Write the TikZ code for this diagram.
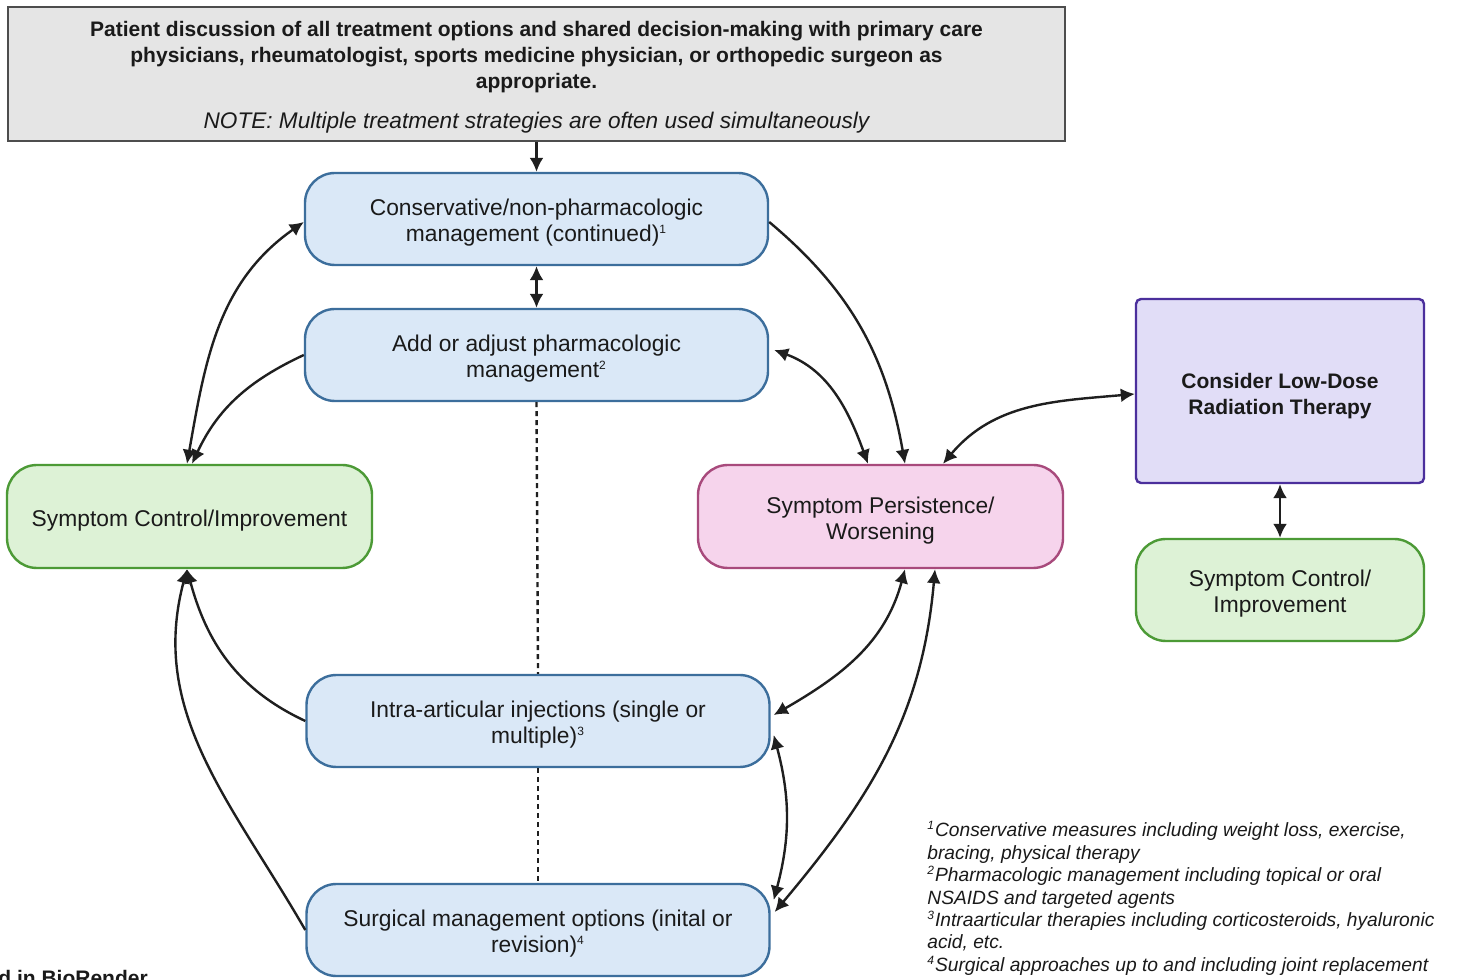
\documentclass[tikz,border=0pt]{standalone}
\usepackage{fontspec}
\setmainfont{Liberation Sans}
\usetikzlibrary{arrows.meta}
\definecolor{txt}{HTML}{1A1A1A}
\definecolor{topfill}{HTML}{E5E5E5}
\definecolor{topdraw}{HTML}{4D4D4D}
\definecolor{bfill}{HTML}{DAE8F7}
\definecolor{bdraw}{HTML}{3C6E9C}
\definecolor{gfill}{HTML}{DDF2D6}
\definecolor{gdraw}{HTML}{4C9A36}
\definecolor{pfill}{HTML}{F6D4EC}
\definecolor{pdraw}{HTML}{A84A7C}
\definecolor{vfill}{HTML}{E1DDF7}
\definecolor{vdraw}{HTML}{4B2F9C}
\definecolor{linec}{HTML}{1F1F1F}
\newcommand{\tf}{\rule{0pt}{12.3pt}}
\newcommand{\tftop}{\rule{0pt}{10.7pt}}
\tikzset{
  box/.style={draw, line width=1.2pt, inner sep=0pt, align=center, text=txt,
    font=\fontsize{11.4}{13}\selectfont},
  topbox/.style={box, fill=topfill, draw=topdraw, minimum width=528.5pt, minimum height=67pt},
  bluebox/.style={box, fill=bfill, draw=bdraw, rounded corners=15pt, minimum width=231.5pt, minimum height=46pt},
  greenbox/.style={box, fill=gfill, draw=gdraw, rounded corners=15pt},
  pinkbox/.style={box, fill=pfill, draw=pdraw, rounded corners=15pt, minimum width=182.5pt, minimum height=51.5pt},
  violetbox/.style={box, fill=vfill, draw=vdraw, rounded corners=2.5pt, minimum width=144pt, minimum height=92pt,
    font=\fontsize{10.5}{13}\selectfont\bfseries},
  conn/.style={line width=1.2pt, draw=linec, -{Latex[length=7pt,width=7pt]}},
  dconn/.style={line width=1.2pt, draw=linec, {Latex[length=7pt,width=7pt]}-{Latex[length=7pt,width=7pt]}},
  dotconn/.style={line width=1.2pt, draw=linec, dash pattern=on 2.5pt off 2pt},
  notes/.style={inner sep=0pt, align=left, anchor=north west, text=txt,
    font=\fontsize{9.6}{11.2}\selectfont\itshape},
}
\newcommand{\sups}[1]{\textsuperscript{\fontsize{6}{6}\selectfont #1}}
\begin{document}
\begin{tikzpicture}[x=0.5pt,y=0.5pt]
\useasboundingbox (0,0) rectangle (1459,979);
\fill[white] (0,0) rectangle (1459,979);

\node[topbox, font=\fontsize{10.5}{13}\selectfont\bfseries] (top) at (536.5,905) {\tftop Patient discussion of all treatment options and shared decision-making with primary care\\
physicians, rheumatologist, sports medicine physician, or orthopedic surgeon as\\
appropriate.\\[7pt]
\mdseries\itshape\fontsize{11.3}{13}\selectfont NOTE: Multiple treatment strategies are often used simultaneously};

\node[bluebox] (cons) at (536.5,760) {\tf Conservative/non-pharmacologic\\management (continued)\sups{1}};
\node[bluebox] (pharm) at (536.5,624) {\tf Add or adjust pharmacologic\\management\sups{2}};
\node[bluebox] (inj) at (538,258) {\tf Intra-articular injections (single or\\multiple)\sups{3}};
\node[bluebox] (surg) at (538,49) {\tf Surgical management options (inital or\\revision)\sups{4}};

\node[greenbox, minimum width=182.5pt, minimum height=51.5pt] (gl) at (189.5,462.5) {\tf Symptom Control/Improvement};
\node[pinkbox] (pink) at (880.5,462.5) {\tf Symptom Persistence/\\Worsening};
\node[violetbox] (ldrt) at (1280,588) {\tf Consider Low-Dose\\Radiation Therapy};
\node[greenbox, minimum width=144pt, minimum height=51pt] (gr) at (1280,389) {\tf Symptom Control/\\Improvement};

% connectors
\draw[conn] (top.south) -- (cons.north);
\draw[dconn] (cons.south) -- (pharm.north);
\draw[dotconn] (pharm.south) -- (inj.north);
\draw[dotconn] (inj.south) -- (surg.north);

\draw[dconn] ([xshift=-1.25pt]gl.north) to[out=80,in=215] ([yshift=-1.5pt]cons.west);
\draw[conn] (pharm.west) to[out=205,in=65] ([xshift=1.25pt]gl.north);
\draw[conn] (inj.west) to[out=155,in=285] ([xshift=-1.25pt]gl.south);
\draw[conn] (surg.west) to[out=120,in=255] ([xshift=-1.25pt]gl.south);

\draw[conn] ([yshift=-1.5pt]cons.east) to[out=-40,in=100] ([xshift=12.25pt]pink.north);
\draw[dconn] ([xshift=2.5pt,yshift=2.5pt]pharm.east) to[out=-20,in=110] ([xshift=-6.25pt]pink.north);
\draw[dconn] ([xshift=31.25pt]pink.north) to[out=50,in=185] ([yshift=-1.5pt]ldrt.west);
\draw[dconn] (ldrt.south) -- (gr.north);

\draw[dconn] ([xshift=12.25pt]pink.south) to[out=255,in=30] ([xshift=1.5pt,yshift=3pt]inj.east);
\draw[dconn] ([xshift=1.5pt,yshift=-7pt]inj.east) to[out=-75,in=75] ([xshift=1.5pt,yshift=15pt]surg.east);
\draw[dconn] ([xshift=27.25pt]pink.south) to[out=-95,in=50] ([xshift=2pt,yshift=9pt]surg.east);

\node[notes] (fn) at (927,158) {\sups{1}Conservative measures including weight loss, exercise,\\
bracing, physical therapy\\
\sups{2}Pharmacologic management including topical or oral\\
NSAIDS and targeted agents\\
\sups{3}Intraarticular therapies including corticosteroids, hyaluronic\\
acid, etc.\\
\sups{4}Surgical approaches up to and including joint replacement};

\node[inner sep=0pt, anchor=north west, text=txt, font=\fontsize{10.5}{12}\selectfont\bfseries] (bio) at (-2,9) {d in BioRender};
\end{tikzpicture}
\end{document}
